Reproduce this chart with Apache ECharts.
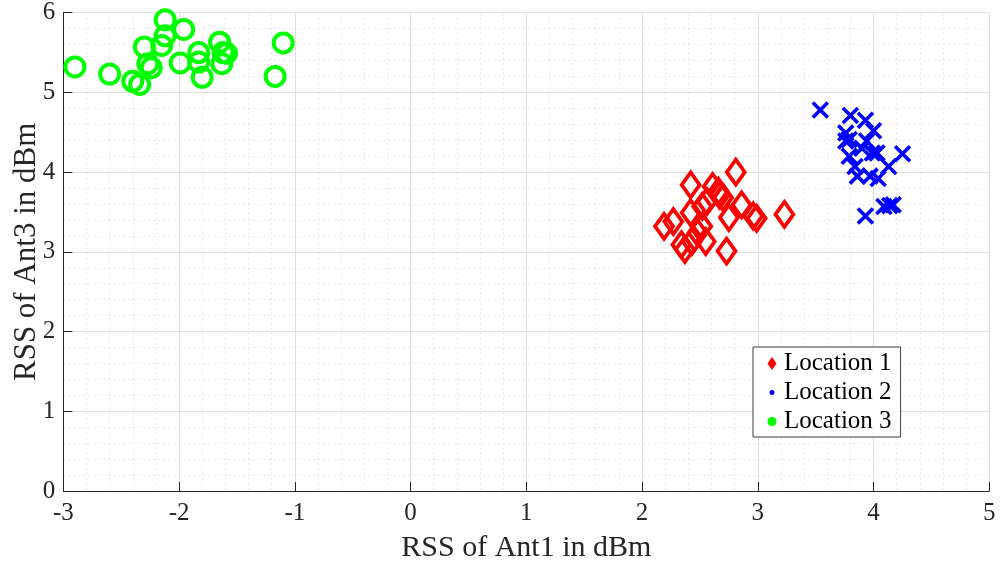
<!DOCTYPE html>
<html>
<head>
<meta charset="utf-8">
<script src="https://cdn.jsdelivr.net/npm/echarts@6/dist/echarts.min.js"></script>
<style>
  html, body { margin: 0; padding: 0; background: #fff; }
  #chart { width: 1000px; height: 569px; }
</style>
</head>
<body>
<div id="chart"></div>
<script>
// RSS measurements [Ant1, Ant3] in dBm for each location
const location1 = [
  [2.81, 4.00], [2.42, 3.84], [2.61, 3.82], [2.70, 3.68], [2.66, 3.76],
  [2.52, 3.57], [2.56, 3.63], [2.86, 3.59], [2.96, 3.45], [2.99, 3.42],
  [3.23, 3.47], [2.75, 3.43], [2.19, 3.32], [2.27, 3.38], [2.42, 3.49],
  [2.52, 3.32], [2.55, 3.13], [2.37, 3.03], [2.43, 3.13], [2.73, 3.01],
  [2.48, 3.24], [2.34, 3.09], [2.67, 3.71]
];
const location2 = [
  [3.54, 4.78], [3.80, 4.71], [3.93, 4.65], [4.00, 4.52], [3.76, 4.49],
  [3.79, 4.41], [3.76, 4.39], [3.94, 4.39], [3.79, 4.20], [3.90, 4.30],
  [3.99, 4.24], [4.03, 4.24], [4.25, 4.23], [3.84, 4.07], [4.13, 4.07],
  [3.86, 3.95], [3.97, 3.95], [4.04, 3.92], [4.09, 3.57], [4.14, 3.58],
  [4.17, 3.59], [3.93, 3.45]
];
const location3 = [
  [-2.90, 5.32], [-2.60, 5.23], [-2.40, 5.14], [-2.34, 5.10], [-2.30, 5.57],
  [-2.27, 5.36], [-2.24, 5.31], [-2.12, 5.91], [-2.12, 5.71], [-2.15, 5.59],
  [-1.96, 5.79], [-1.99, 5.37], [-1.83, 5.50], [-1.83, 5.38], [-1.80, 5.19],
  [-1.65, 5.63], [-1.62, 5.50], [-1.63, 5.36], [-1.59, 5.49], [-1.17, 5.20],
  [-1.10, 5.62]
];
const seriesNames = ['Location 1', 'Location 2', 'Location 3'];
const xTitle = 'RSS of Ant1 in dBm';
const yTitle = 'RSS of Ant3 in dBm';

const serif = 'Liberation Serif';
const axisInk = '#262626';

function axisCommon() {
  return {
    axisLine: { show: true, onZero: false, lineStyle: { color: axisInk, width: 1 } },
    axisTick: { show: true, inside: true, length: 9, lineStyle: { color: axisInk } },
    splitLine: { show: true, lineStyle: { color: '#dfdfdf', width: 1 } },
    minorTick: { show: false, splitNumber: 5 },
    minorSplitLine: { show: true, lineStyle: { color: '#e8e8e8', width: 1, type: [2, 3] } },
    nameLocation: 'middle',
    nameMoveOverlap: false,
    nameTextStyle: { fontFamily: serif, fontSize: 30, color: axisInk },
    axisLabel: { fontFamily: serif, fontSize: 25, color: axisInk }
  };
}

const xAxis = Object.assign(axisCommon(), {
  type: 'value', min: -3, max: 5, interval: 1,
  name: xTitle, nameGap: 42
});
xAxis.axisLabel.margin = 10;

const yAxis = Object.assign(axisCommon(), {
  type: 'value', min: 0, max: 6, interval: 1,
  name: yTitle, nameGap: 21
});
yAxis.nameTextStyle.fontSize = 31;
yAxis.axisLabel.margin = 8;

const clear = 'rgba(0,0,0,0)';
// small legend glyphs padded inside a 14x14 box
const legendDiamond = 'path://M0,0M14,14M7,0.5L11.5,7L7,13.5L2.5,7Z';
const legendDotSmall = 'path://M0,0M14,14M4.5,7A2.5,2.5,0,1,0,9.5,7A2.5,2.5,0,1,0,4.5,7Z';
const legendDot = 'path://M0,0M14,14M2.5,7A4.5,4.5,0,1,0,11.5,7A4.5,4.5,0,1,0,2.5,7Z';

const chart = echarts.init(document.getElementById('chart'), null, { renderer: 'canvas' });
chart.setOption({
  animation: false,
  backgroundColor: '#ffffff',
  grid: {
    left: 63.3, right: 10.7, top: 12.7, bottom: 78,
    containLabel: false, outerBoundsMode: 'none'
  },
  xAxis: xAxis,
  yAxis: yAxis,
  legend: {
    orient: 'vertical',
    left: 753, top: 347,
    padding: [4, 9, 3, 12],
    itemWidth: 14, itemHeight: 14, itemGap: 4, itemTextGap: 9,
    backgroundColor: '#ffffff',
    borderColor: '#3a3a3a', borderWidth: 1, borderRadius: 0,
    textStyle: { fontFamily: serif, fontSize: 25, color: '#000' },
    data: [
      { name: seriesNames[0], icon: legendDiamond, itemStyle: { color: '#ff0000', borderWidth: 0 } },
      { name: seriesNames[1], icon: legendDotSmall, itemStyle: { color: '#0000ff', borderWidth: 0 } },
      { name: seriesNames[2], icon: legendDot, itemStyle: { color: '#00ff00', borderWidth: 0 } }
    ]
  },
  series: [
    {
      name: seriesNames[0], type: 'scatter', data: location1,
      symbol: 'diamond', symbolSize: [18, 25],
      itemStyle: { color: clear, borderColor: '#ff0000', borderWidth: 3.8, opacity: 1 }
    },
    {
      name: seriesNames[1], type: 'scatter', data: location2,
      symbol: 'path://M0,0L10,10M0,10L10,0', symbolSize: 15,
      itemStyle: { color: clear, borderColor: '#0000ff', borderWidth: 3.6, opacity: 1 }
    },
    {
      name: seriesNames[2], type: 'scatter', data: location3,
      symbol: 'circle', symbolSize: 19,
      itemStyle: { color: clear, borderColor: '#00ff00', borderWidth: 4, opacity: 1 }
    }
  ]
});
</script>
</body>
</html>
